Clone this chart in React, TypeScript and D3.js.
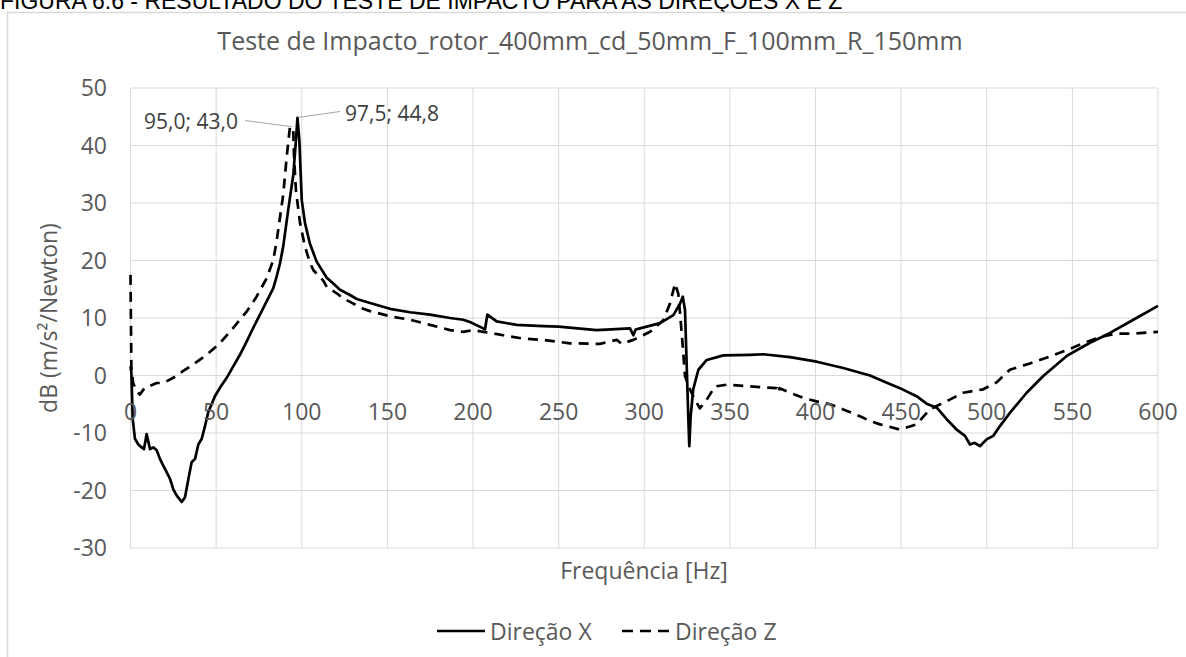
import React from "react";
import * as d3 from "d3";

// Direção X (solid) – frequency [Hz] and dB values
const freqX = [
  0, 0.5, 1.3, 2.6, 4.6, 6.5, 7.9, 9.4, 11.4, 13.3, 15.3, 17.2, 19.2, 21.1, 23.1, 25, 27, 28.9, 29.9,
  31.8, 33.8, 35.7, 37.7, 39.6, 41.6, 43.5, 45.4, 49.3, 52.3, 56.2, 60, 63.9, 67.8, 71.7, 75.6, 79.5,
  83.4, 85.4, 87.3, 89.2, 92.1, 95.1, 96.6, 97.5, 98.6, 100, 101.9, 104.8, 108.7, 114.6, 118.4, 122.3,
  128.2, 132.1, 139.9, 151.5, 163.2, 174.9, 186.6, 194.3, 198.2, 206, 207, 208.4, 213.8, 225.5, 241,
  250, 272.2, 291.7, 293.6, 295, 297.5, 309.2, 317, 320.9, 322.5, 323.8, 324.8, 325.7, 326.3, 327.1,
  328.6, 331.6, 336.5, 346.2, 361.8, 369.5, 385.1, 400.7, 416.2, 431.8, 439.6, 449.3, 459, 464.9,
  470.8, 476.6, 482.4, 487.3, 490.2, 493, 496, 499.9, 503.8, 507.7, 513.5, 523.3, 533, 546.7, 560.3,
  572, 585.6, 600,
];
const dbX = [
  1.6, 0.5, -7.6, -11, -12, -12.5, -12.8, -10.2, -12.8, -12.5, -13, -14.5, -15.7, -16.8, -18, -19.8,
  -20.9, -21.6, -22, -21.2, -18, -15.1, -14.5, -12, -11, -8.8, -6.4, -3.6, -2.1, -0.4, 1.6, 3.6, 5.9,
  8.3, 10.6, 12.9, 15.2, 17.3, 19.5, 22.5, 28.8, 35, 40.9, 44.8, 40.9, 30.5, 26.5, 22.9, 19.8, 17,
  16, 14.9, 14, 13.3, 12.6, 11.6, 11, 10.6, 10, 9.7, 9.3, 8.2, 8, 10.6, 9.4, 8.8, 8.6, 8.5, 7.9, 8.2,
  7, 8, 8.2, 9.1, 10.5, 12.5, 13.7, 11.4, 1.6, -7.1, -12.3, -7.1, -2.4, 1, 2.7, 3.5, 3.6, 3.7, 3.2,
  2.4, 1.3, 0, -1, -2.2, -3.6, -4.9, -5.6, -7.6, -9.4, -10.5, -12, -11.7, -12.3, -11.1, -10.5, -8.8,
  -6.5, -3, -0.1, 3.4, 5.7, 7.4, 9.7, 12.1,
];

// Direção Z (dashed)
const freqZ = [
  0, 0.5, 1.5, 3.6, 5.5, 8.4, 11.4, 15.3, 19.2, 25, 30.8, 36.6, 44.4, 52.2, 60, 67.8, 73.6, 79.5,
  83.4, 85.4, 89.2, 91.2, 93.1, 95, 95.5, 96.6, 99, 101.9, 104.8, 106.8, 112.6, 114.6, 120.4, 124.3,
  128.2, 135.9, 139.9, 151.5, 163.2, 174.9, 186.6, 194.3, 200.2, 206, 217.7, 229.4, 241, 256.6,
  274.2, 283.9, 286.8, 293.6, 303.4, 311.1, 315, 318, 319.9, 321.9, 323.8, 326.7, 329.6, 332.5,
  336.5, 341.3, 348.2, 361.8, 377.4, 378.3, 379, 385.1, 392.9, 400.7, 408.5, 416.2, 426, 431.8,
  437.7, 449.3, 459, 466.7, 478.4, 486.3, 497.9, 505.7, 513.5, 525.2, 536.9, 546.7, 556.4, 566.1,
  575.9, 585.6, 600,
];
const dbZ = [
  17.5, 1.6, -1.3, -2.7, -3.3, -2.1, -1.8, -1.3, -1.3, -0.4, 0.8, 1.9, 3.6, 5.6, 8.3, 11.1, 13.7,
  16.9, 20.1, 23.5, 31.5, 38, 43.2, 43, 38, 32.2, 26.5, 22.4, 19.6, 18.3, 16.5, 15.4, 14.3, 13.4,
  12.8, 11.6, 11.2, 10.3, 9.7, 8.8, 7.9, 7.6, 7.9, 7.6, 7, 6.4, 6.2, 5.6, 5.5, 6.2, 5.5, 6.2, 7.6,
  9.6, 12.5, 16, 14.2, 7.3, -0.1, -2.4, -4.2, -5.7, -4.2, -1.9, -1.6, -1.9, -2.2, -3, -2.2, -3,
  -3.9, -4.5, -5, -5.9, -7.1, -7.9, -8.5, -9.4, -8.5, -5.9, -4.2, -3, -2.4, -1.2, 1, 2.1, 3.3, 4.4,
  5.6, 6.7, 7.3, 7.3, 7.6,
];

const xTicks = [0, 50, 100, 150, 200, 250, 300, 350, 400, 450, 500, 550, 600];
const yTicks = [-30, -20, -10, 0, 10, 20, 30, 40, 50];

const peakLabels = [
  { f: 95, v: 43, text: "95,0; 43,0" },
  { f: 97.5, v: 44.8, text: "97,5; 44,8" },
];

const W = 1186;
const H = 657;
const plot = { left: 130.5, right: 1158, top: 88, bottom: 548 };
const font = "'Open Sans', sans-serif";

export default function App() {
  const x = d3.scaleLinear().domain([0, 600]).range([plot.left, plot.right]);
  const y = d3.scaleLinear().domain([-30, 50]).range([plot.bottom, plot.top]);

  const line = d3
    .line<[number, number]>()
    .x((d) => x(d[0]))
    .y((d) => y(d[1]));

  const ptsX = freqX.map((f, i) => [f, dbX[i]] as [number, number]);
  const ptsZ = freqZ.map((f, i) => [f, dbZ[i]] as [number, number]);

  return (
    <svg
      width={W}
      height={H}
      style={{ position: "absolute", left: 0, top: 0, background: "#fff" }}
    >
      <text x={0} y={9} fontFamily="'Liberation Sans', Arial, sans-serif" fontSize={23} fill="#000">
        FIGURA 6.6 - RESULTADO DO TESTE DE IMPACTO PARA AS DIREÇÕES X E Z
      </text>
      <rect x={7.5} y={12.5} width={1300} height={800} fill="#fff" stroke="#d9d9d9" strokeWidth={1.5} />

      <text x={590} y={50} textAnchor="middle" fontFamily={font} fontSize={25} fill="#595959">
        Teste de Impacto_rotor_400mm_cd_50mm_F_100mm_R_150mm
      </text>

      {/* grid */}
      <g stroke="#d9d9d9" strokeWidth={1}>
        {yTicks.map((t) => (
          <line key={"h" + t} x1={plot.left} x2={plot.right} y1={y(t)} y2={y(t)} />
        ))}
        {xTicks.map((t) => (
          <line key={"v" + t} x1={x(t)} x2={x(t)} y1={plot.top} y2={plot.bottom} />
        ))}
      </g>

      {/* y tick labels */}
      <g fontFamily={font} fontSize={23} fill="#595959" textAnchor="end">
        {yTicks.map((t) => (
          <text key={t} x={107} y={y(t) + 8.3}>
            {t}
          </text>
        ))}
      </g>

      {/* series */}
      <path d={line(ptsX) || ""} fill="none" stroke="#000" strokeWidth={2.7} strokeLinejoin="round" />
      <path
        d={line(ptsZ) || ""}
        fill="none"
        stroke="#000"
        strokeWidth={2.7}
        strokeDasharray="10 7"
        strokeLinejoin="round"
      />

      {/* x tick labels, next to the axis at y = 0 */}
      <g fontFamily={font} fontSize={23} fill="#595959" textAnchor="middle">
        {xTicks.map((t) => (
          <text key={t} x={x(t)} y={y(0) + 44.5}>
            {t}
          </text>
        ))}
      </g>

      {/* peak labels */}
      <g stroke="#a6a6a6" strokeWidth={1} fill="none">
        <polyline points={`245,120.5 ${x(peakLabels[0].f) - 1},${y(peakLabels[0].v) - 1.5}`} />
        <polyline points={`340,111.5 ${x(peakLabels[1].f) + 1},${y(peakLabels[1].v) - 0.5}`} />
      </g>
      <g fontFamily={font} fontSize={21} fill="#404040">
        <text x={238} y={129} textAnchor="end">
          {peakLabels[0].text}
        </text>
        <text x={345} y={120.5}>
          {peakLabels[1].text}
        </text>
      </g>

      {/* axis titles */}
      <text
        transform={`translate(57,${(plot.top + plot.bottom) / 2}) rotate(-90)`}
        textAnchor="middle"
        fontFamily={font}
        fontSize={23}
        fill="#595959"
      >
        dB (m/s²/Newton)
      </text>
      <text x={644} y={579} textAnchor="middle" fontFamily={font} fontSize={23} fill="#595959">
        Frequência  [Hz]
      </text>

      {/* legend */}
      <line x1={437} x2={485} y1={631} y2={631} stroke="#000" strokeWidth={2.7} />
      <text x={490} y={640} fontFamily={font} fontSize={23} fill="#595959">
        Direção X
      </text>
      <line x1={622} x2={670} y1={631} y2={631} stroke="#000" strokeWidth={2.7} strokeDasharray="11 7" />
      <text x={675} y={640} fontFamily={font} fontSize={23} fill="#595959">
        Direção Z
      </text>
    </svg>
  );
}
